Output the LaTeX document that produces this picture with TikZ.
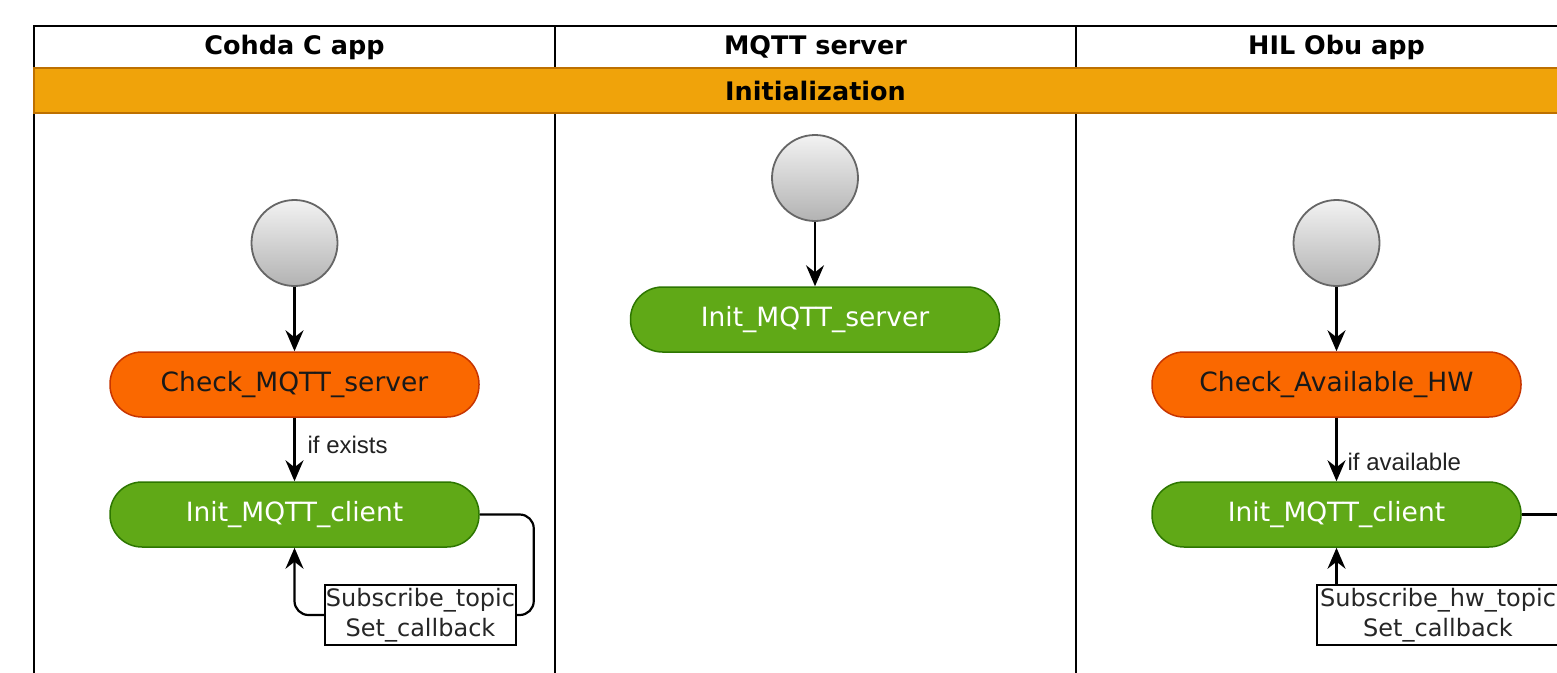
\documentclass[tikz,border=0pt]{standalone}
\usepackage{fontspec}
\setmainfont{DejaVu Sans}
\newfontfamily\lblfont{Liberation Sans}
\usetikzlibrary{arrows.meta,calc}
\definecolor{bandfill}{HTML}{F0A30A}
\definecolor{banddraw}{HTML}{BD7000}
\definecolor{orfill}{HTML}{FA6800}
\definecolor{ordraw}{HTML}{C73500}
\definecolor{grfill}{HTML}{60A917}
\definecolor{grdraw}{HTML}{2D7600}
\definecolor{lbltext}{HTML}{222222}
\tikzset{
  frame/.style={line width=2.2pt, draw=black},
  hdr/.style={font=\fontsize{25.5}{30}\selectfont\bfseries, anchor=center},
  startcircle/.style={circle, minimum size=86pt, inner sep=0pt, draw=black!60, line width=1.8pt, top color=black!5, bottom color=black!30},
  orstate/.style={rectangle, rounded corners=32pt, minimum width=369pt, minimum height=65pt, fill=orfill, draw=ordraw, line width=1.5pt, text=black!90, font=\fontsize{26.5}{30}\selectfont},
  grstate/.style={rectangle, rounded corners=32pt, minimum width=369pt, minimum height=65pt, fill=grfill, draw=grdraw, line width=1.5pt, text=white, font=\fontsize{26.5}{30}\selectfont},
  lblbox/.style={rectangle, draw=black, fill=white, line width=1.8pt, inner xsep=1pt, inner ysep=2pt, align=center, font=\fontsize{24}{30}\selectfont, text=black!85},
  flow/.style={line width=2.2pt, -{Stealth[length=21pt,width=18pt,inset=7pt]}},
  edgelbl/.style={font=\lblfont\fontsize{24}{26}\selectfont, text=lbltext, anchor=west, inner sep=0pt}
}
\begin{document}
\begin{tikzpicture}[x=1pt,y=-1pt]
\useasboundingbox (0,0) rectangle (1557,672);
\clip (0,0) rectangle (1557,672);
\fill[white] (0,0) rectangle (1557,672);
% swimlane frame
\draw[frame] (34,700) -- (34,26) -- (1600,26);
\draw[frame] (555,26) -- (555,700);
\draw[frame] (1076,26) -- (1076,700);
\draw[frame] (1597,26) -- (1597,700);
\node[hdr] (h1) at (294.5,47) {Cohda C app};
\node[hdr] (h2) at (815.5,47) {MQTT server};
\node[hdr] (h3) at (1336.5,47) {HIL Obu app};
% band
\draw[fill=bandfill, draw=banddraw, line width=2.2pt] (34,68) rectangle (1597,113);
\node[hdr] (band) at (815.5,90.5) {Initialization};
% Cohda lane
\node[startcircle] (c1) at (294.5,243) {};
\node[orstate] (chk1) at (294.5,384.5) {Check\_MQTT\_server};
\node[grstate] (ini1) at (294.5,514.5) {Init\_MQTT\_client};
\node[lblbox, minimum width=191pt, minimum height=60pt] (box1) at (420.5,615) {Subscribe\_topic\\Set\_callback};
\draw[flow] (c1) -- (chk1);
\draw[flow] (chk1) -- node[edgelbl, pos=0.42, xshift=12pt] (l1) {if exists} (ini1);
\draw[line width=2.2pt, rounded corners=14pt] (ini1.east) -- ++(54,0) |- (box1.east);
\draw[flow, rounded corners=14pt] (box1.west) -| (ini1.south);
% MQTT lane
\node[startcircle] (c2) at (815,178) {};
\node[grstate] (ini2) at (815,319.5) {Init\_MQTT\_server};
\draw[flow] (c2) -- (ini2);
% HIL lane
\node[startcircle] (c3) at (1336.5,243) {};
\node[orstate] (chk3) at (1336.5,384.5) {Check\_Available\_HW};
\node[grstate] (ini3) at (1336.5,514.5) {Init\_MQTT\_client};
\node[lblbox, minimum width=242pt, minimum height=60pt] (box3) at (1438,615) {Subscribe\_hw\_topic\\Set\_callback};
\draw[flow] (c3) -- (chk3);
\draw[flow] (chk3) -- node[edgelbl, pos=0.7, xshift=10pt] (l3) {if available} (ini3);
\coordinate (off3) at (1620,514.5);
\draw[line width=2.2pt] (ini3.east) -- (off3);
\draw[flow] (ini3.south |- box3.north) -- (ini3.south);
\end{tikzpicture}
\end{document}
